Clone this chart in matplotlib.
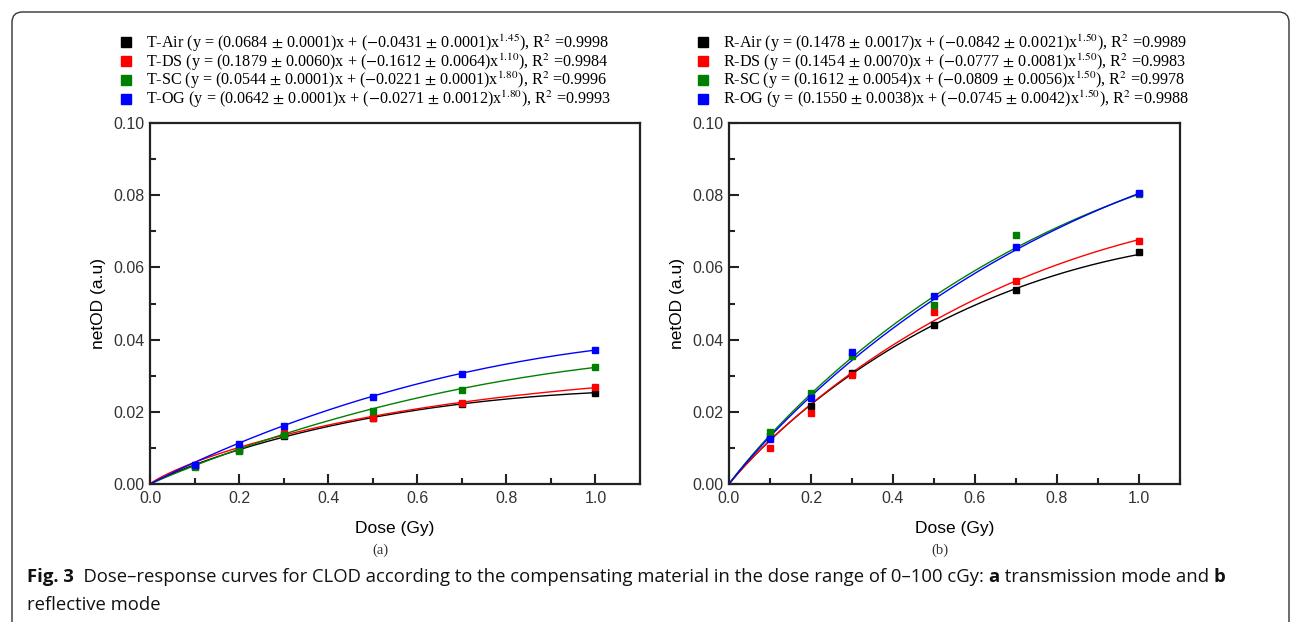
import numpy as np
import matplotlib
matplotlib.use("Agg")
import matplotlib.pyplot as plt
from matplotlib.lines import Line2D
from matplotlib.patches import FancyBboxPatch
from matplotlib.ticker import MultipleLocator

dose = [0.1, 0.2, 0.3, 0.5, 0.7, 1.0]
colors = ["black", "#ff0000", "#008000", "#0000ff"]

# transmission mode (a)
t_names = ["T-Air", "T-DS", "T-SC", "T-OG"]
t_air = [0.0050, 0.0094, 0.0133, 0.0183, 0.0222, 0.0253]
t_ds = [0.0054, 0.0100, 0.0140, 0.0183, 0.0225, 0.0269]
t_sc = [0.0047, 0.0092, 0.0137, 0.0203, 0.0261, 0.0323]
t_og = [0.0054, 0.0111, 0.0162, 0.0242, 0.0304, 0.0372]
t_a = [0.0684, 0.1879, 0.0544, 0.0642]
t_a_err = ["0.0001", "0.0060", "0.0001", "0.0001"]
t_b = [-0.0431, -0.1612, -0.0221, -0.0271]
t_b_err = ["0.0001", "0.0064", "0.0001", "0.0012"]
t_c = [1.45, 1.10, 1.80, 1.80]
t_r2 = ["0.9998", "0.9984", "0.9996", "0.9993"]

# reflective mode (b)
r_names = ["R-Air", "R-DS", "R-SC", "R-OG"]
r_air = [0.0132, 0.0217, 0.0307, 0.0441, 0.0538, 0.0644]
r_ds = [0.0101, 0.0197, 0.0301, 0.0477, 0.0561, 0.0674]
r_sc = [0.0144, 0.0253, 0.0354, 0.0496, 0.0690, 0.0803]
r_og = [0.0126, 0.0237, 0.0367, 0.0522, 0.0656, 0.0805]
r_a = [0.1478, 0.1454, 0.1612, 0.1550]
r_a_err = ["0.0017", "0.0070", "0.0054", "0.0038"]
r_b = [-0.0842, -0.0777, -0.0809, -0.0745]
r_b_err = ["0.0021", "0.0081", "0.0056", "0.0042"]
r_c = [1.50, 1.50, 1.50, 1.50]
r_r2 = ["0.9989", "0.9983", "0.9978", "0.9988"]

plt.rcParams["mathtext.fontset"] = "stix"
plt.rcParams["font.family"] = ["Liberation Sans", "DejaVu Sans"]

fig = plt.figure(figsize=(12.95, 6.22), dpi=100)

# rounded frame around the figure
frame = FancyBboxPatch((12 / 1295, -0.05), (1289 - 12) / 1295, 610 / 622 + 0.05,
                       boxstyle="round,pad=0,rounding_size=0.008",
                       transform=fig.transFigure, fill=False, edgecolor="#333333",
                       linewidth=1.0, mutation_aspect=1295 / 622)
fig.patches.append(frame)


def panel(ax, names, series, a, a_err, b, b_err, c, r2, leg_x, tag):
    xs = np.linspace(0, 1.0, 200)
    for i in range(4):
        ys = a[i] * xs + b[i] * xs ** c[i]
        ax.plot(xs, ys, color=colors[i], lw=1.0, zorder=2)
        ax.plot(dose, series[i], "s", color=colors[i], ms=5, zorder=3)
    ax.set_xlim(0, 1.1)
    ax.set_ylim(0, 0.10)
    ax.xaxis.set_major_locator(MultipleLocator(0.2))
    ax.xaxis.set_minor_locator(MultipleLocator(0.1))
    ax.yaxis.set_major_locator(MultipleLocator(0.02))
    ax.yaxis.set_minor_locator(MultipleLocator(0.01))
    ax.xaxis.set_major_formatter(plt.FormatStrFormatter("%.1f"))
    ax.yaxis.set_major_formatter(plt.FormatStrFormatter("%.2f"))
    ax.tick_params(which="major", direction="in", length=7, width=1.5,
                   labelsize=11.5, colors="#222222", labelcolor="#333333", pad=4)
    ax.tick_params(axis="x", which="major", pad=5)
    ax.tick_params(which="minor", direction="in", length=4, width=1.5, colors="#222222")
    for s in ax.spines.values():
        s.set_linewidth(1.6)
        s.set_color("#222222")
    ax.set_xlabel("Dose (Gy)", fontsize=12.5, labelpad=11)
    ax.set_ylabel("netOD (a.u)", fontsize=12.5, labelpad=5)

    handles = []
    labels = []
    for i in range(4):
        handles.append(Line2D([], [], marker="s", ls="none", color=colors[i], ms=6.5))
        labels.append(r"%s (y = (%.4f $\pm$ %s)x + ($-$%.4f $\pm$ %s)x$^{%.2f}$), R$^2$ =%s"
                      % (names[i], a[i], a_err[i], -b[i], b_err[i], c[i], r2[i]))
    ax.legend(handles, labels, loc="upper left", bbox_to_anchor=(leg_x, 0.948),
              bbox_transform=fig.transFigure, frameon=False,
              prop={"family": "Liberation Serif", "size": 11.6},
              handlelength=0.8, handletextpad=0.8, labelspacing=-0.15,
              borderaxespad=0, borderpad=0)
    pos = ax.get_position()
    fig.text(pos.x0 + pos.width / 2 - 15 / 1295, 1 - 550 / 622, tag, ha="center",
             va="center", fontsize=10.5, family="Liberation Serif", color="#333333")


ax1 = fig.add_axes([150 / 1295, 138 / 622, 490 / 1295, 361 / 622])
ax2 = fig.add_axes([729 / 1295, 138 / 622, 451 / 1295, 361 / 622])

panel(ax1, t_names, [t_air, t_ds, t_sc, t_og], t_a, t_a_err, t_b, t_b_err, t_c, t_r2,
      120 / 1295, "(a)")
panel(ax2, r_names, [r_air, r_ds, r_sc, r_og], r_a, r_a_err, r_b, r_b_err, r_c, r_r2,
      697 / 1295, "(b)")

# caption
cap = ["Fig. 3", "  Dose\u2013response curves for CLOD according to the compensating material "
       "in the dose range of 0\u2013100 cGy: ", "a", " transmission mode and ", "b"]
x = 27 / 1295
renderer = fig.canvas.get_renderer()
for j, part in enumerate(cap):
    t = fig.text(x, 1 - 577 / 622, part, fontsize=13.3, family="Open Sans",
                 fontweight="bold" if j in (0, 2, 4) else "normal",
                 va="center", ha="left", color="#111111")
    bb = t.get_window_extent(renderer=renderer)
    x += bb.width / fig.bbox.width
fig.text(27 / 1295, 1 - 605 / 622, "reflective mode", fontsize=13.3, family="Open Sans",
         va="center", ha="left", color="#111111")

fig.savefig("out.png", dpi=100)
